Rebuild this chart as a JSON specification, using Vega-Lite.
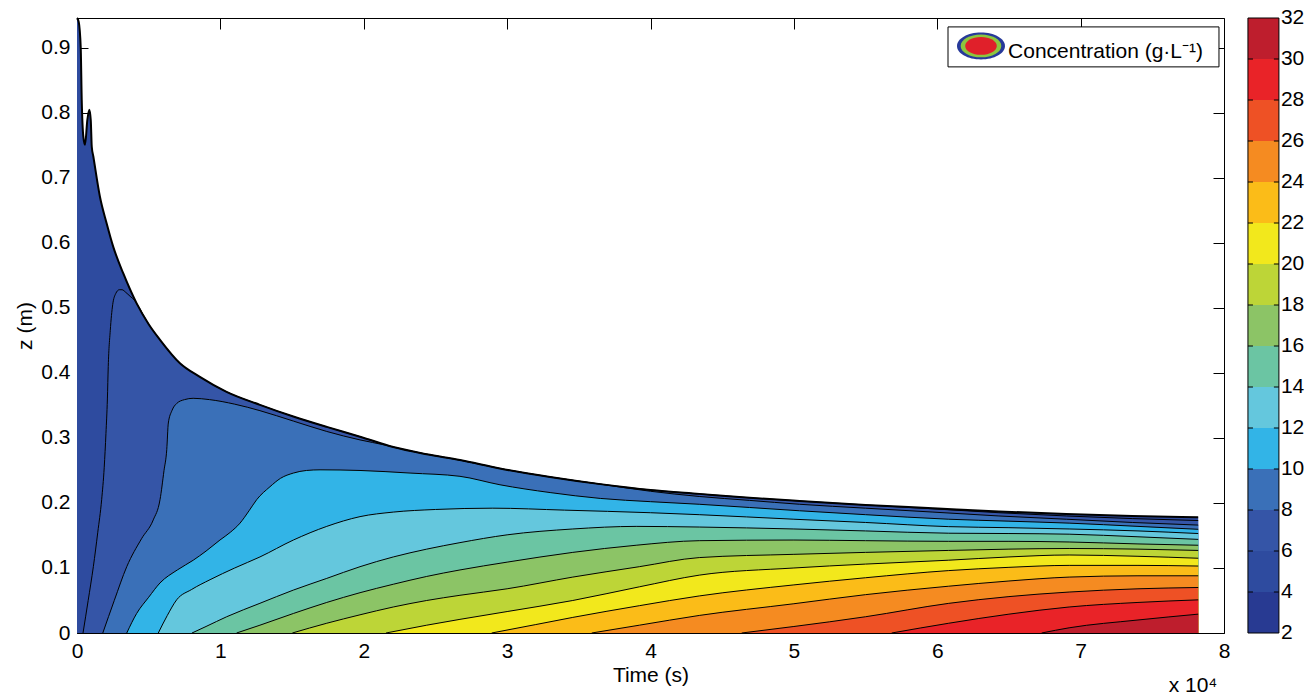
{
  "$schema": "https://vega.github.io/schema/vega-lite/v6.json",
  "autosize": "none",
  "width": 1147,
  "height": 615,
  "padding": {"left": 77, "top": 18, "right": 90, "bottom": 65},
  "background": "white",
  "config": {
    "view": {"stroke": null},
    "font": "Liberation Sans",
    "axis": {
      "zindex": 1, "grid": false, "domainColor": "black", "domainWidth": 1,
      "tickColor": "black", "tickSize": -11, "labelPadding": 18,
      "labelColor": "black", "titleColor": "black",
      "labelFont": "Liberation Sans", "titleFont": "Liberation Sans",
      "labelFontSize": 21, "titleFontSize": 21, "titleFontWeight": "normal",
      "labelFlush": false, "labelOverlap": false
    }
  },
  "datasets": {
    "contours": [
      {"c": 4, "t": 0, "z": 0.946}, {"c": 4, "t": 0.012, "z": 0.94}, {"c": 4, "t": 0.026, "z": 0.9}, {"c": 4, "t": 0.033, "z": 0.82},
      {"c": 4, "t": 0.044, "z": 0.764}, {"c": 4, "t": 0.056, "z": 0.751}, {"c": 4, "t": 0.072, "z": 0.789}, {"c": 4, "t": 0.086, "z": 0.805},
      {"c": 4, "t": 0.096, "z": 0.789}, {"c": 4, "t": 0.103, "z": 0.748}, {"c": 4, "t": 0.114, "z": 0.733}, {"c": 4, "t": 0.16, "z": 0.671},
      {"c": 4, "t": 0.207, "z": 0.63}, {"c": 4, "t": 0.253, "z": 0.594}, {"c": 4, "t": 0.323, "z": 0.553}, {"c": 4, "t": 0.416, "z": 0.507},
      {"c": 4, "t": 0.5, "z": 0.475}, {"c": 4, "t": 0.579, "z": 0.451}, {"c": 4, "t": 0.718, "z": 0.415}, {"c": 4, "t": 0.857, "z": 0.394},
      {"c": 4, "t": 1.043, "z": 0.371}, {"c": 4, "t": 1.276, "z": 0.351}, {"c": 4, "t": 1.509, "z": 0.333}, {"c": 4, "t": 1.742, "z": 0.317},
      {"c": 4, "t": 1.974, "z": 0.302}, {"c": 4, "t": 2.206, "z": 0.286}, {"c": 4, "t": 2.439, "z": 0.275}, {"c": 4, "t": 2.671, "z": 0.266},
      {"c": 4, "t": 2.95, "z": 0.253}, {"c": 4, "t": 3.3, "z": 0.24}, {"c": 4, "t": 3.65, "z": 0.229}, {"c": 4, "t": 4.0, "z": 0.22},
      {"c": 4, "t": 4.34, "z": 0.214}, {"c": 4, "t": 4.69, "z": 0.208}, {"c": 4, "t": 5.04, "z": 0.203}, {"c": 4, "t": 5.5, "z": 0.197},
      {"c": 4, "t": 5.97, "z": 0.192}, {"c": 4, "t": 6.43, "z": 0.187}, {"c": 4, "t": 6.9, "z": 0.183}, {"c": 4, "t": 7.36, "z": 0.18},
      {"c": 4, "t": 7.82, "z": 0.178},

      {"c": 6, "t": 0.042, "z": 0}, {"c": 6, "t": 0.078, "z": 0.05}, {"c": 6, "t": 0.114, "z": 0.102}, {"c": 6, "t": 0.145, "z": 0.155},
      {"c": 6, "t": 0.172, "z": 0.205}, {"c": 6, "t": 0.19, "z": 0.255}, {"c": 6, "t": 0.202, "z": 0.307}, {"c": 6, "t": 0.212, "z": 0.36},
      {"c": 6, "t": 0.218, "z": 0.41}, {"c": 6, "t": 0.232, "z": 0.465}, {"c": 6, "t": 0.249, "z": 0.505}, {"c": 6, "t": 0.27, "z": 0.522},
      {"c": 6, "t": 0.295, "z": 0.528}, {"c": 6, "t": 0.314, "z": 0.528}, {"c": 6, "t": 0.34, "z": 0.524}, {"c": 6, "t": 0.37, "z": 0.518},
      {"c": 6, "t": 0.4, "z": 0.512}, {"c": 6, "t": 0.416, "z": 0.507}, {"c": 6, "t": 0.5, "z": 0.475}, {"c": 6, "t": 0.579, "z": 0.451},
      {"c": 6, "t": 0.718, "z": 0.415}, {"c": 6, "t": 0.857, "z": 0.394}, {"c": 6, "t": 1.043, "z": 0.371}, {"c": 6, "t": 1.276, "z": 0.351},
      {"c": 6, "t": 1.509, "z": 0.333}, {"c": 6, "t": 1.742, "z": 0.317}, {"c": 6, "t": 1.974, "z": 0.302}, {"c": 6, "t": 2.206, "z": 0.286},
      {"c": 6, "t": 2.439, "z": 0.275}, {"c": 6, "t": 2.671, "z": 0.266}, {"c": 6, "t": 2.95, "z": 0.253}, {"c": 6, "t": 3.3, "z": 0.24},
      {"c": 6, "t": 3.65, "z": 0.229}, {"c": 6, "t": 4.0, "z": 0.22}, {"c": 6, "t": 4.34, "z": 0.214}, {"c": 6, "t": 4.69, "z": 0.208},
      {"c": 6, "t": 5.04, "z": 0.203}, {"c": 6, "t": 5.5, "z": 0.197}, {"c": 6, "t": 5.97, "z": 0.191}, {"c": 6, "t": 6.43, "z": 0.185},
      {"c": 6, "t": 6.9, "z": 0.18}, {"c": 6, "t": 7.36, "z": 0.176}, {"c": 6, "t": 7.82, "z": 0.173},

      {"c": 8, "t": 0.18, "z": 0}, {"c": 8, "t": 0.26, "z": 0.05}, {"c": 8, "t": 0.347, "z": 0.102}, {"c": 8, "t": 0.45, "z": 0.145},
      {"c": 8, "t": 0.532, "z": 0.174}, {"c": 8, "t": 0.579, "z": 0.205}, {"c": 8, "t": 0.607, "z": 0.25}, {"c": 8, "t": 0.626, "z": 0.282},
      {"c": 8, "t": 0.637, "z": 0.323}, {"c": 8, "t": 0.662, "z": 0.342}, {"c": 8, "t": 0.695, "z": 0.353}, {"c": 8, "t": 0.75, "z": 0.359},
      {"c": 8, "t": 0.81, "z": 0.361}, {"c": 8, "t": 0.924, "z": 0.359}, {"c": 8, "t": 1.1, "z": 0.352}, {"c": 8, "t": 1.276, "z": 0.342},
      {"c": 8, "t": 1.509, "z": 0.326}, {"c": 8, "t": 1.742, "z": 0.31}, {"c": 8, "t": 1.974, "z": 0.297}, {"c": 8, "t": 2.15, "z": 0.289},
      {"c": 8, "t": 2.206, "z": 0.286}, {"c": 8, "t": 2.439, "z": 0.275}, {"c": 8, "t": 2.671, "z": 0.266}, {"c": 8, "t": 2.95, "z": 0.253},
      {"c": 8, "t": 3.3, "z": 0.24}, {"c": 8, "t": 3.65, "z": 0.229}, {"c": 8, "t": 4.0, "z": 0.218}, {"c": 8, "t": 4.34, "z": 0.21},
      {"c": 8, "t": 4.69, "z": 0.204}, {"c": 8, "t": 5.04, "z": 0.198}, {"c": 8, "t": 5.5, "z": 0.192}, {"c": 8, "t": 5.97, "z": 0.186},
      {"c": 8, "t": 6.43, "z": 0.18}, {"c": 8, "t": 6.9, "z": 0.175}, {"c": 8, "t": 7.36, "z": 0.17}, {"c": 8, "t": 7.82, "z": 0.166},

      {"c": 10, "t": 0.347, "z": 0}, {"c": 10, "t": 0.416, "z": 0.03}, {"c": 10, "t": 0.5, "z": 0.055}, {"c": 10, "t": 0.579, "z": 0.077},
      {"c": 10, "t": 0.7, "z": 0.097}, {"c": 10, "t": 0.811, "z": 0.112}, {"c": 10, "t": 0.9, "z": 0.126}, {"c": 10, "t": 0.997, "z": 0.143},
      {"c": 10, "t": 1.07, "z": 0.155}, {"c": 10, "t": 1.137, "z": 0.169}, {"c": 10, "t": 1.2, "z": 0.188}, {"c": 10, "t": 1.253, "z": 0.205},
      {"c": 10, "t": 1.346, "z": 0.225}, {"c": 10, "t": 1.42, "z": 0.238}, {"c": 10, "t": 1.509, "z": 0.246}, {"c": 10, "t": 1.6, "z": 0.25},
      {"c": 10, "t": 1.695, "z": 0.251}, {"c": 10, "t": 1.974, "z": 0.25}, {"c": 10, "t": 2.323, "z": 0.246}, {"c": 10, "t": 2.671, "z": 0.241},
      {"c": 10, "t": 2.95, "z": 0.228}, {"c": 10, "t": 3.3, "z": 0.216}, {"c": 10, "t": 3.65, "z": 0.207}, {"c": 10, "t": 4.0, "z": 0.202},
      {"c": 10, "t": 4.34, "z": 0.198}, {"c": 10, "t": 5.04, "z": 0.188}, {"c": 10, "t": 5.5, "z": 0.182}, {"c": 10, "t": 6.08, "z": 0.175},
      {"c": 10, "t": 6.5, "z": 0.172}, {"c": 10, "t": 6.92, "z": 0.169}, {"c": 10, "t": 7.4, "z": 0.164}, {"c": 10, "t": 7.82, "z": 0.1595},

      {"c": 12, "t": 0.567, "z": 0}, {"c": 12, "t": 0.63, "z": 0.027}, {"c": 12, "t": 0.695, "z": 0.051}, {"c": 12, "t": 0.8, "z": 0.067},
      {"c": 12, "t": 0.928, "z": 0.082}, {"c": 12, "t": 1.1, "z": 0.1}, {"c": 12, "t": 1.276, "z": 0.117}, {"c": 12, "t": 1.509, "z": 0.143},
      {"c": 12, "t": 1.742, "z": 0.164}, {"c": 12, "t": 1.974, "z": 0.179}, {"c": 12, "t": 2.206, "z": 0.186}, {"c": 12, "t": 2.5, "z": 0.19},
      {"c": 12, "t": 2.9, "z": 0.192}, {"c": 12, "t": 3.4, "z": 0.189}, {"c": 12, "t": 4.0, "z": 0.185}, {"c": 12, "t": 4.34, "z": 0.182},
      {"c": 12, "t": 5.0, "z": 0.175}, {"c": 12, "t": 5.5, "z": 0.17}, {"c": 12, "t": 6.08, "z": 0.1636}, {"c": 12, "t": 6.5, "z": 0.162},
      {"c": 12, "t": 6.92, "z": 0.16}, {"c": 12, "t": 7.4, "z": 0.157}, {"c": 12, "t": 7.82, "z": 0.153},

      {"c": 14, "t": 0.802, "z": 0}, {"c": 14, "t": 0.9, "z": 0.01}, {"c": 14, "t": 1.044, "z": 0.025}, {"c": 14, "t": 1.276, "z": 0.0457},
      {"c": 14, "t": 1.509, "z": 0.066}, {"c": 14, "t": 1.742, "z": 0.084}, {"c": 14, "t": 1.974, "z": 0.102}, {"c": 14, "t": 2.206, "z": 0.117},
      {"c": 14, "t": 2.439, "z": 0.129}, {"c": 14, "t": 2.671, "z": 0.139}, {"c": 14, "t": 3.0, "z": 0.151}, {"c": 14, "t": 3.458, "z": 0.16},
      {"c": 14, "t": 3.9, "z": 0.164}, {"c": 14, "t": 4.34, "z": 0.163}, {"c": 14, "t": 5.0, "z": 0.16}, {"c": 14, "t": 5.5, "z": 0.157},
      {"c": 14, "t": 6.08, "z": 0.1535}, {"c": 14, "t": 6.5, "z": 0.153}, {"c": 14, "t": 6.92, "z": 0.152}, {"c": 14, "t": 7.4, "z": 0.148},
      {"c": 14, "t": 7.82, "z": 0.144},

      {"c": 16, "t": 1.113, "z": 0}, {"c": 16, "t": 1.276, "z": 0.012}, {"c": 16, "t": 1.509, "z": 0.03}, {"c": 16, "t": 1.742, "z": 0.047},
      {"c": 16, "t": 1.974, "z": 0.062}, {"c": 16, "t": 2.206, "z": 0.075}, {"c": 16, "t": 2.439, "z": 0.087}, {"c": 16, "t": 2.671, "z": 0.097},
      {"c": 16, "t": 3.0, "z": 0.109}, {"c": 16, "t": 3.458, "z": 0.124}, {"c": 16, "t": 3.9, "z": 0.135}, {"c": 16, "t": 4.34, "z": 0.142},
      {"c": 16, "t": 5.0, "z": 0.143}, {"c": 16, "t": 5.5, "z": 0.142}, {"c": 16, "t": 6.08, "z": 0.141}, {"c": 16, "t": 6.5, "z": 0.141},
      {"c": 16, "t": 6.92, "z": 0.14}, {"c": 16, "t": 7.4, "z": 0.137}, {"c": 16, "t": 7.82, "z": 0.135},

      {"c": 18, "t": 1.502, "z": 0}, {"c": 18, "t": 1.742, "z": 0.015}, {"c": 18, "t": 1.974, "z": 0.028}, {"c": 18, "t": 2.206, "z": 0.04},
      {"c": 18, "t": 2.439, "z": 0.05}, {"c": 18, "t": 2.671, "z": 0.058}, {"c": 18, "t": 3.0, "z": 0.068}, {"c": 18, "t": 3.458, "z": 0.086},
      {"c": 18, "t": 3.922, "z": 0.102}, {"c": 18, "t": 4.34, "z": 0.116}, {"c": 18, "t": 5.0, "z": 0.121}, {"c": 18, "t": 5.5, "z": 0.124},
      {"c": 18, "t": 6.08, "z": 0.127}, {"c": 18, "t": 6.5, "z": 0.129}, {"c": 18, "t": 6.92, "z": 0.13}, {"c": 18, "t": 7.4, "z": 0.129},
      {"c": 18, "t": 7.82, "z": 0.127},

      {"c": 20, "t": 2.155, "z": 0}, {"c": 20, "t": 2.439, "z": 0.012}, {"c": 20, "t": 2.671, "z": 0.021}, {"c": 20, "t": 3.0, "z": 0.033},
      {"c": 20, "t": 3.458, "z": 0.05}, {"c": 20, "t": 3.922, "z": 0.071}, {"c": 20, "t": 4.34, "z": 0.089}, {"c": 20, "t": 5.0, "z": 0.1},
      {"c": 20, "t": 5.5, "z": 0.106}, {"c": 20, "t": 6.08, "z": 0.112}, {"c": 20, "t": 6.5, "z": 0.117}, {"c": 20, "t": 6.92, "z": 0.12},
      {"c": 20, "t": 7.4, "z": 0.118}, {"c": 20, "t": 7.82, "z": 0.115},

      {"c": 22, "t": 2.892, "z": 0}, {"c": 22, "t": 3.2, "z": 0.013}, {"c": 22, "t": 3.458, "z": 0.024}, {"c": 22, "t": 3.922, "z": 0.042},
      {"c": 22, "t": 4.34, "z": 0.057}, {"c": 22, "t": 5.0, "z": 0.074}, {"c": 22, "t": 5.5, "z": 0.085}, {"c": 22, "t": 6.08, "z": 0.096},
      {"c": 22, "t": 6.5, "z": 0.101}, {"c": 22, "t": 6.92, "z": 0.104}, {"c": 22, "t": 7.4, "z": 0.104}, {"c": 22, "t": 7.82, "z": 0.103},

      {"c": 24, "t": 3.59, "z": 0}, {"c": 24, "t": 3.922, "z": 0.012}, {"c": 24, "t": 4.34, "z": 0.027}, {"c": 24, "t": 5.0, "z": 0.045},
      {"c": 24, "t": 5.5, "z": 0.059}, {"c": 24, "t": 6.08, "z": 0.072}, {"c": 24, "t": 6.5, "z": 0.08}, {"c": 24, "t": 6.92, "z": 0.086},
      {"c": 24, "t": 7.4, "z": 0.088}, {"c": 24, "t": 7.82, "z": 0.088},

      {"c": 26, "t": 4.636, "z": 0}, {"c": 26, "t": 5.0, "z": 0.01}, {"c": 26, "t": 5.5, "z": 0.025}, {"c": 26, "t": 6.08, "z": 0.0456},
      {"c": 26, "t": 6.5, "z": 0.056}, {"c": 26, "t": 6.92, "z": 0.063}, {"c": 26, "t": 7.4, "z": 0.068}, {"c": 26, "t": 7.82, "z": 0.07},

      {"c": 28, "t": 5.682, "z": 0}, {"c": 28, "t": 6.08, "z": 0.015}, {"c": 28, "t": 6.5, "z": 0.029}, {"c": 28, "t": 6.92, "z": 0.04},
      {"c": 28, "t": 7.4, "z": 0.047}, {"c": 28, "t": 7.82, "z": 0.051},

      {"c": 30, "t": 6.728, "z": 0}, {"c": 30, "t": 6.92, "z": 0.008}, {"c": 30, "t": 7.4, "z": 0.02}, {"c": 30, "t": 7.82, "z": 0.029}
    ],
    "bar": [
      {"c": 2, "hi": 4}, {"c": 4, "hi": 6}, {"c": 6, "hi": 8}, {"c": 8, "hi": 10}, {"c": 10, "hi": 12},
      {"c": 12, "hi": 14}, {"c": 14, "hi": 16}, {"c": 16, "hi": 18}, {"c": 18, "hi": 20}, {"c": 20, "hi": 22},
      {"c": 22, "hi": 24}, {"c": 24, "hi": 26}, {"c": 26, "hi": 28}, {"c": 28, "hi": 30}, {"c": 30, "hi": 32}
    ],
    "cbticks": [
      {"v": 2}, {"v": 4}, {"v": 6}, {"v": 8}, {"v": 10}, {"v": 12}, {"v": 14}, {"v": 16},
      {"v": 18}, {"v": 20}, {"v": 22}, {"v": 24}, {"v": 26}, {"v": 28}, {"v": 30}, {"v": 32}
    ]
  },
  "layer": [
    {
      "layer": [
        {
          "data": {"name": "contours"},
          "mark": {"type": "area", "interpolate": "monotone"},
          "encoding": {
            "x": {"field": "t", "type": "quantitative", "scale": {"domain": [0, 8], "nice": false},
                  "axis": {"orient": "bottom", "values": [0, 1, 2, 3, 4, 5, 6, 7, 8], "title": "Time (s)", "titlePadding": 3}},
            "y": {"field": "z", "type": "quantitative", "stack": null, "scale": {"domain": [0, 0.946], "nice": false},
                  "axis": {"orient": "left", "values": [0, 0.1, 0.2, 0.3, 0.4, 0.5, 0.6, 0.7, 0.8, 0.9], "format": "~g", "title": "z (m)", "titlePadding": 5}},
            "y2": {"datum": 0},
            "fill": {"field": "c", "type": "ordinal", "legend": null,
                     "scale": {"domain": [2, 4, 6, 8, 10, 12, 14, 16, 18, 20, 22, 24, 26, 28, 30],
                               "range": ["#283a92", "#2e4b9f", "#3555a7", "#3a70b8", "#32b4e7", "#64c7dd", "#6bc5a3", "#8cc466", "#bdd537", "#f2e81c", "#fbbc18", "#f58b21", "#ee5125", "#e92328", "#be1e2d"]}}
          }
        },
        {
          "data": {"name": "contours"},
          "transform": [{"filter": "datum.c > 4"}],
          "mark": {"type": "line", "interpolate": "monotone", "color": "black", "strokeWidth": 1},
          "encoding": {
            "x": {"field": "t", "type": "quantitative", "scale": {"domain": [0, 8], "nice": false}, "axis": null},
            "y": {"field": "z", "type": "quantitative", "scale": {"domain": [0, 0.946], "nice": false}, "axis": null},
            "detail": {"field": "c", "type": "nominal"}
          }
        },
        {
          "data": {"name": "contours"},
          "transform": [{"filter": "datum.c == 4"}],
          "mark": {"type": "line", "interpolate": "monotone", "color": "black", "strokeWidth": 2},
          "encoding": {
            "x": {"field": "t", "type": "quantitative", "scale": {"domain": [0, 8], "nice": false}, "axis": null},
            "y": {"field": "z", "type": "quantitative", "scale": {"domain": [0, 0.946], "nice": false}, "axis": null}
          }
        },
        {
          "data": {"name": "contours"},
          "transform": [{"filter": "datum.c == 4"}],
          "mark": {"type": "point", "opacity": 0},
          "encoding": {
            "x": {"field": "t", "type": "quantitative", "scale": {"domain": [0, 8], "nice": false},
                  "axis": {"orient": "top", "values": [0, 1, 2, 3, 4, 5, 6, 7, 8], "labels": false, "title": null}},
            "y": {"field": "z", "type": "quantitative", "scale": {"domain": [0, 0.946], "nice": false},
                  "axis": {"orient": "right", "values": [0, 0.1, 0.2, 0.3, 0.4, 0.5, 0.6, 0.7, 0.8, 0.9], "labels": false, "title": null}}
          }
        },
        {
          "data": {"values": [{}]},
          "mark": {"type": "rect", "fill": "white", "stroke": "black", "strokeWidth": 1},
          "encoding": {
            "x": {"datum": 6.075, "type": "quantitative", "scale": {"domain": [0, 8], "nice": false}, "axis": null},
            "x2": {"datum": 7.965},
            "y": {"datum": 0.8708, "type": "quantitative", "scale": {"domain": [0, 0.946], "nice": false}, "axis": null},
            "y2": {"datum": 0.9323}
          }
        },
        {
          "data": {"values": [{"ring": "outer"}, {"ring": "middle"}, {"ring": "inner"}]},
          "mark": {"type": "point", "filled": true, "opacity": 1, "strokeWidth": 0, "shape": "M-1,0A1,0.56,0,1,1,1,0A1,0.56,0,1,1,-1,0Z"},
          "encoding": {
            "x": {"datum": 6.305, "type": "quantitative", "scale": {"domain": [0, 8], "nice": false}, "axis": null},
            "y": {"datum": 0.903, "type": "quantitative", "scale": {"domain": [0, 0.946], "nice": false}, "axis": null},
            "size": {"field": "ring", "type": "nominal", "legend": null,
                     "scale": {"domain": ["outer", "middle", "inner"], "range": [2304, 1000, 196]}},
            "color": {"field": "ring", "type": "nominal", "legend": null,
                      "scale": {"domain": ["outer", "middle", "inner"], "range": ["#27399a", "#8cc63f", "#e0202a"]}}
          }
        },
        {
          "data": {"values": [{}]},
          "mark": {"type": "text", "text": "Concentration (g·L⁻¹)", "align": "left", "baseline": "alphabetic", "fontSize": 21, "font": "Liberation Sans", "color": "black"},
          "encoding": {
            "x": {"datum": 6.494, "type": "quantitative", "scale": {"domain": [0, 8], "nice": false}, "axis": null},
            "y": {"datum": 0.884, "type": "quantitative", "scale": {"domain": [0, 0.946], "nice": false}, "axis": null}
          }
        },
        {
          "data": {"values": [{}]},
          "mark": {"type": "text", "text": "x 10⁴", "align": "center", "baseline": "middle", "fontSize": 21, "font": "Liberation Sans", "color": "black", "clip": false},
          "encoding": {
            "x": {"datum": 7.784, "type": "quantitative", "scale": {"domain": [0, 8], "nice": false}, "axis": null},
            "y": {"datum": -0.0815, "type": "quantitative", "scale": {"domain": [0, 0.946], "nice": false}, "axis": null}
          }
        }
      ],
      "resolve": {"axis": {"x": "independent", "y": "independent"}}
    },
    {
      "layer": [
        {
          "data": {"name": "bar"},
          "mark": {"type": "rect", "clip": false},
          "encoding": {
            "x": {"datum": 8.167, "type": "quantitative", "scale": {"domain": [0, 8], "nice": false}, "axis": null},
            "x2": {"datum": 8.383},
            "y": {"field": "c", "type": "quantitative", "scale": {"domain": [2, 32], "nice": false}, "axis": null},
            "y2": {"field": "hi"},
            "fill": {"field": "c", "type": "ordinal", "legend": null,
                     "scale": {"domain": [2, 4, 6, 8, 10, 12, 14, 16, 18, 20, 22, 24, 26, 28, 30],
                               "range": ["#283a92", "#2e4b9f", "#3555a7", "#3a70b8", "#32b4e7", "#64c7dd", "#6bc5a3", "#8cc466", "#bdd537", "#f2e81c", "#fbbc18", "#f58b21", "#ee5125", "#e92328", "#be1e2d"]}}
          }
        },
        {
          "data": {"values": [{}]},
          "mark": {"type": "rect", "clip": false, "fillOpacity": 0, "stroke": "black", "strokeWidth": 1},
          "encoding": {
            "x": {"datum": 8.167, "type": "quantitative", "scale": {"domain": [0, 8], "nice": false}, "axis": null},
            "x2": {"datum": 8.383},
            "y": {"datum": 2, "type": "quantitative", "scale": {"domain": [2, 32], "nice": false}, "axis": null},
            "y2": {"datum": 32}
          }
        },
        {
          "data": {"name": "cbticks"},
          "transform": [{"filter": "datum.v > 2 && datum.v < 32"}],
          "mark": {"type": "rule", "clip": false, "color": "black", "strokeWidth": 1},
          "encoding": {
            "x": {"datum": 8.167, "type": "quantitative", "scale": {"domain": [0, 8], "nice": false}, "axis": null},
            "x2": {"datum": 8.202},
            "y": {"field": "v", "type": "quantitative", "scale": {"domain": [2, 32], "nice": false}, "axis": null}
          }
        },
        {
          "data": {"name": "cbticks"},
          "transform": [{"filter": "datum.v > 2 && datum.v < 32"}],
          "mark": {"type": "rule", "clip": false, "color": "black", "strokeWidth": 1},
          "encoding": {
            "x": {"datum": 8.348, "type": "quantitative", "scale": {"domain": [0, 8], "nice": false}, "axis": null},
            "x2": {"datum": 8.383},
            "y": {"field": "v", "type": "quantitative", "scale": {"domain": [2, 32], "nice": false}, "axis": null}
          }
        },
        {
          "data": {"name": "cbticks"},
          "mark": {"type": "text", "clip": false, "align": "left", "baseline": "middle", "fontSize": 21, "font": "Liberation Sans", "color": "black"},
          "encoding": {
            "x": {"datum": 8.397, "type": "quantitative", "scale": {"domain": [0, 8], "nice": false}, "axis": null},
            "y": {"field": "v", "type": "quantitative", "scale": {"domain": [2, 32], "nice": false}, "axis": null},
            "text": {"field": "v", "type": "quantitative", "format": "d"}
          }
        }
      ]
    }
  ],
  "resolve": {"scale": {"y": "independent"}, "axis": {"x": "independent", "y": "independent"}}
}
